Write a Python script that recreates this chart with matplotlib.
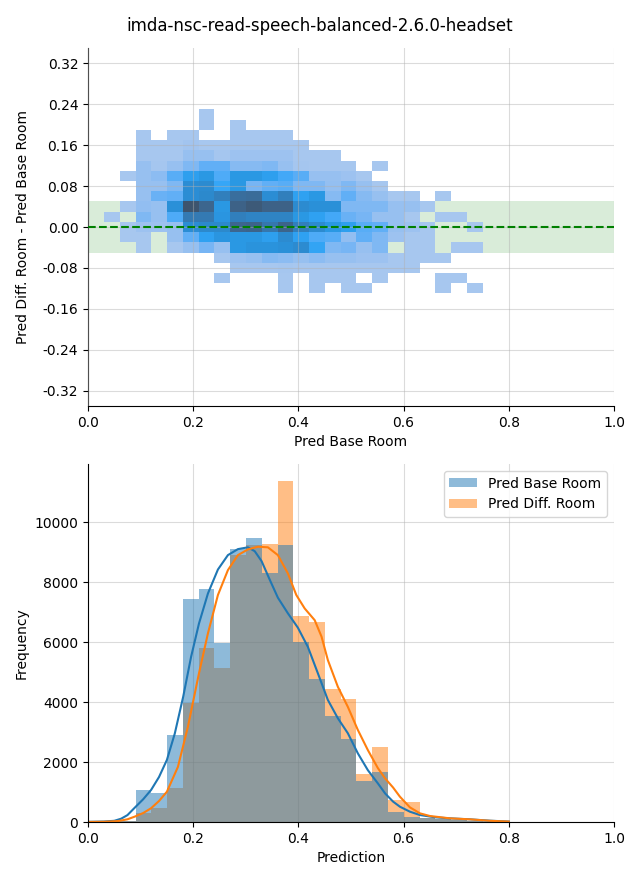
import matplotlib
matplotlib.use('Agg')
import matplotlib.pyplot as plt
import numpy as np
import seaborn as sns
from matplotlib.patches import Patch

TITLE = 'imda-nsc-read-speech-balanced-2.6.0-headset'

# --- top: 2d histogram, Pred Base Room (x) vs diff (y) ---
# columns: x bins 0.03 .. 0.75 (24 bins), rows: y bins from 0.23 down to -0.13 (18 bins)
x_edges = np.linspace(0.0304, 0.7504, 25)
y_edges = np.linspace(-0.13, 0.23, 19)
diff_counts = [  # rows listed top -> bottom
    [0, 0, 0, 0, 0, 0, 2, 0, 0, 0, 0, 0, 0, 0, 0, 0, 0, 0, 0, 0, 0, 0, 0, 0],
    [0, 0, 0, 0, 0, 0, 2, 0, 2, 0, 0, 0, 0, 0, 0, 0, 0, 0, 0, 0, 0, 0, 0, 0],
    [0, 0, 2, 0, 2, 2, 0, 0, 2, 2, 2, 2, 0, 0, 0, 0, 0, 0, 0, 0, 0, 0, 0, 0],
    [0, 0, 2, 2, 2, 4, 2, 2, 2, 2, 2, 2, 2, 0, 0, 0, 0, 0, 0, 0, 0, 0, 0, 0],
    [0, 0, 2, 2, 2, 8, 8, 3, 6, 6, 6, 6, 2, 2, 2, 0, 0, 0, 0, 0, 0, 0, 0, 0],
    [0, 0, 8, 3, 8, 16, 24, 24, 14, 14, 16, 8, 3, 2, 2, 2, 0, 2, 0, 0, 0, 0, 0, 0],
    [0, 2, 8, 12, 26, 38, 44, 28, 44, 44, 38, 30, 26, 8, 8, 6, 2, 0, 0, 0, 0, 0, 0, 0],
    [0, 0, 8, 8, 16, 52, 54, 32, 44, 18, 24, 26, 16, 16, 9, 16, 8, 2, 0, 0, 0, 0, 0, 0],
    [0, 0, 8, 22, 24, 52, 56, 64, 78, 80, 52, 64, 36, 44, 14, 24, 14, 8, 2, 2, 0, 2, 0, 0],
    [0, 2, 10, 8, 50, 100, 85, 44, 88, 95, 88, 88, 54, 50, 50, 16, 16, 16, 8, 8, 2, 0, 0, 0],
    [2, 0, 16, 8, 28, 68, 68, 46, 64, 60, 60, 60, 44, 36, 30, 22, 18, 8, 8, 2, 0, 2, 2, 0],
    [0, 2, 6, 6, 8, 52, 56, 56, 84, 86, 70, 86, 64, 54, 44, 38, 26, 24, 8, 6, 2, 0, 0, 2],
    [0, 2, 2, 0, 8, 24, 36, 46, 44, 44, 38, 54, 36, 28, 26, 10, 24, 16, 6, 2, 2, 0, 0, 0],
    [0, 0, 2, 0, 2, 8, 18, 8, 44, 48, 48, 50, 54, 34, 16, 18, 8, 16, 0, 2, 2, 0, 2, 2],
    [0, 0, 0, 0, 0, 0, 0, 2, 6, 8, 14, 12, 8, 12, 8, 8, 6, 6, 2, 2, 2, 2, 0, 0],
    [0, 0, 0, 0, 0, 0, 0, 0, 2, 2, 2, 3, 2, 2, 2, 2, 2, 2, 2, 2, 0, 0, 0, 0],
    [0, 0, 0, 0, 0, 0, 0, 2, 0, 0, 0, 2, 0, 2, 2, 2, 0, 2, 0, 0, 0, 2, 2, 0],
    [0, 0, 0, 0, 0, 0, 0, 0, 0, 0, 0, 2, 0, 2, 0, 2, 2, 0, 0, 0, 0, 2, 0, 2],
]

# --- bottom: histograms of both predictions ---
hist_edges = np.linspace(0.0004, 0.8104, 28)
base_hist = [10, 25, 40, 1060, 980, 2900, 7430, 7770, 5970, 9120, 9470, 8310, 9230, 5990,
             4770, 3540, 2780, 1380, 1670, 340, 180, 150, 100, 60, 50, 20, 10]
diff_hist = [5, 15, 30, 290, 480, 1140, 3980, 5800, 5130, 8900, 9230, 9270, 11370, 6870,
             6670, 4430, 4090, 1600, 2500, 730, 670, 150, 100, 60, 40, 15, 5]

kde_x_base = [0.0, 0.03, 0.05, 0.063, 0.075, 0.089, 0.105, 0.12, 0.135, 0.15, 0.165, 0.181,
              0.196, 0.211, 0.228, 0.247, 0.266, 0.285, 0.304, 0.317, 0.33, 0.345, 0.361,
              0.38, 0.399, 0.418, 0.437, 0.456, 0.475, 0.494, 0.513, 0.532, 0.551, 0.565,
              0.58, 0.593, 0.612, 0.631, 0.66, 0.688, 0.726, 0.764, 0.80]
kde_base = [5, 15, 40, 110, 230, 480, 760, 1070, 1500, 2070, 2950, 4180, 5510, 6620, 7620,
            8420, 8900, 9100, 9160, 9030, 8700, 8100, 7480, 6960, 6480, 5840, 4960, 4070,
            3460, 2960, 2290, 1730, 1290, 950, 680, 510, 344, 233, 156, 122, 89, 44, 15]
kde_x_diff = [0.0, 0.03, 0.057, 0.075, 0.089, 0.105, 0.12, 0.135, 0.15, 0.171, 0.19, 0.211,
              0.228, 0.247, 0.266, 0.285, 0.304, 0.323, 0.342, 0.361, 0.38, 0.396, 0.412,
              0.431, 0.444, 0.456, 0.475, 0.494, 0.513, 0.532, 0.551, 0.565, 0.58, 0.593,
              0.612, 0.631, 0.65, 0.688, 0.726, 0.764, 0.80]
kde_diff = [2, 8, 30, 90, 180, 300, 460, 700, 1010, 1840, 3180, 4960, 6290, 7570, 8400, 8900,
            9090, 9180, 9160, 8900, 8290, 7570, 7120, 6730, 6180, 5400, 4510, 3840, 3070, 2400,
            1800, 1450, 1150, 844, 489, 289, 200, 122, 89, 40, 15]

labels = ['Pred Base Room', 'Pred Diff. Room']

fig = plt.figure(figsize=(6.4, 8.8), dpi=100)
fig.text(0.5, 1 - 26 / 880, TITLE, ha='center', va='center', fontsize=12)

ax1 = fig.add_axes([88 / 640, 1 - 406 / 880, 526 / 640, 358 / 880])
grid = np.array(diff_counts, dtype=float)[::-1]
xc = (x_edges[:-1] + x_edges[1:]) / 2
yc = (y_edges[:-1] + y_edges[1:]) / 2
xx, yy = np.meshgrid(xc, yc)
ax1.axhspan(-0.05, 0.05, color='green', alpha=0.15, lw=0, zorder=0.5)
sns.histplot(x=xx.ravel(), y=yy.ravel(), weights=grid.ravel(), bins=[x_edges, y_edges], ax=ax1)
ax1.axhline(0, color='green', linestyle='--', linewidth=1.5, zorder=3)
ax1.set_xlim(0, 1)
ax1.set_ylim(-0.35, 0.35)
ax1.set_yticks(np.arange(-0.32, 0.33, 0.08))
ax1.yaxis.set_major_formatter(matplotlib.ticker.FormatStrFormatter('%.2f'))
ax1.set_axisbelow(False)
ax1.grid(True, color='#b0b0b0', alpha=0.45, linewidth=0.8)
ax1.set_xlabel('Pred Base Room')
ax1.set_ylabel('Pred Diff. Room - Pred Base Room', labelpad=9)
ax1.spines['top'].set_visible(False)
ax1.spines['right'].set_visible(False)

ax2 = fig.add_axes([88 / 640, 1 - 822 / 880, 526 / 640, 358 / 880])
widths = np.diff(hist_edges)
ax2.bar(hist_edges[:-1], diff_hist, width=widths, align='edge', color='C1', alpha=0.5, lw=0)
ax2.bar(hist_edges[:-1], base_hist, width=widths, align='edge', color='C0', alpha=0.5, lw=0)
ax2.plot(kde_x_base, kde_base, color='C0', lw=1.5)
ax2.plot(kde_x_diff, kde_diff, color='C1', lw=1.5)
ax2.set_xlim(0, 1)
ax2.grid(True, color='#b0b0b0', alpha=0.45, linewidth=0.8)
ax2.set_axisbelow(True)
ax2.set_xlabel('Prediction')
ax2.set_ylabel('Frequency')
ax2.spines['top'].set_visible(False)
ax2.spines['right'].set_visible(False)
handles = [Patch(facecolor='C0', alpha=0.5), Patch(facecolor='C1', alpha=0.5)]
ax2.legend(handles, labels, loc='upper right')

fig.savefig('out.png', dpi=100)
